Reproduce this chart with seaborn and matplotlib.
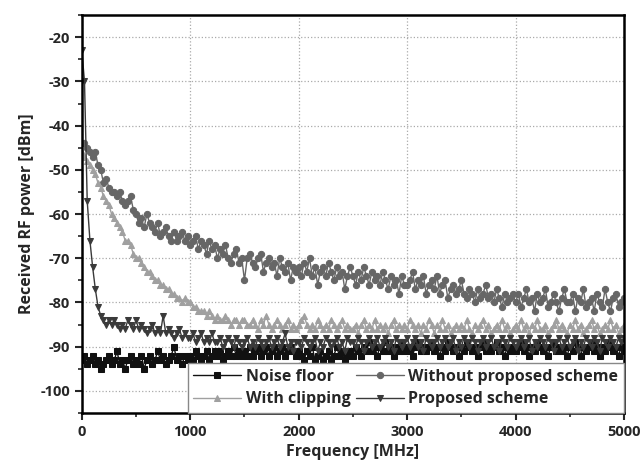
import numpy as np
import pandas as pd
import seaborn as sns
import matplotlib.pyplot as plt
from matplotlib.ticker import MultipleLocator

# frequency grid (MHz), 25 MHz steps
freq = np.arange(0, 5001, 25)

noise_floor = [
    -93, -92, -94, -93, -92, -94, -93, -95, -94, -93,
    -92, -94, -93, -91, -94, -93, -95, -93, -92, -94,
    -93, -94, -92, -95, -93, -92, -94, -93, -91, -93,
    -92, -94, -93, -92, -90, -93, -92, -94, -92, -93,
    -92, -93, -91, -92, -93, -92, -91, -93, -92, -91,
    -92, -91, -93, -92, -91, -92, -90, -92, -91, -92,
    -91, -92, -90, -92, -91, -90, -92, -91, -90, -92,
    -91, -90, -92, -91, -90, -92, -91, -90, -91, -92,
    -91, -92, -93, -91, -92, -90, -93, -92, -91, -93,
    -92, -91, -93, -92, -90, -92, -91, -93, -92, -91,
    -92, -90, -91, -92, -90, -91, -89, -91, -90, -92,
    -90, -91, -89, -91, -90, -92, -90, -91, -89, -91,
    -90, -91, -92, -90, -89, -91, -90, -91, -90, -89,
    -91, -90, -92, -90, -91, -89, -90, -91, -90, -92,
    -90, -91, -89, -90, -91, -90, -92, -90, -89, -91,
    -90, -91, -90, -89, -91, -90, -92, -90, -91, -90,
    -91, -90, -89, -91, -90, -92, -90, -91, -89, -90,
    -91, -90, -92, -90, -89, -91, -90, -91, -90, -92,
    -90, -91, -89, -90, -92, -90, -91, -90, -89, -91,
    -90, -92, -90, -91, -89, -90, -91, -90, -92, -90,
    -91]

without_scheme = [
    -44, -44, -45, -46, -47, -46, -49, -50, -53, -52,
    -54, -55, -55, -56, -55, -57, -58, -57, -56, -59,
    -60, -62, -61, -63, -60, -62, -63, -64, -62, -65,
    -64, -63, -65, -66, -64, -66, -65, -64, -66, -65,
    -67, -66, -65, -68, -66, -67, -69, -66, -68, -67,
    -70, -68, -69, -67, -70, -71, -69, -68, -71, -70,
    -75, -70, -69, -71, -72, -70, -69, -73, -71, -70,
    -72, -71, -74, -70, -72, -73, -71, -75, -72, -73,
    -72, -74, -71, -73, -70, -74, -72, -76, -73, -72,
    -74, -71, -73, -75, -72, -74, -73, -77, -74, -72,
    -74, -76, -73, -75, -72, -74, -76, -73, -75, -74,
    -76, -73, -75, -77, -74, -76, -75, -78, -74, -76,
    -76, -75, -73, -77, -75, -76, -74, -78, -76, -75,
    -77, -74, -78, -76, -75, -79, -77, -76, -78, -77,
    -75, -78, -79, -77, -78, -80, -77, -79, -78, -76,
    -79, -78, -80, -77, -79, -81, -78, -80, -79, -78,
    -80, -78, -81, -79, -77, -80, -79, -82, -78, -80,
    -79, -77, -81, -80, -78, -80, -82, -79, -77, -80,
    -80, -78, -82, -79, -80, -77, -81, -80, -79, -82,
    -78, -80, -81, -77, -80, -82, -79, -78, -81, -80,
    -79]

with_clipping = [
    -46, -47, -48, -49, -50, -51, -53, -54, -56, -57,
    -58, -60, -61, -62, -63, -64, -66, -66, -67, -69,
    -70, -70, -71, -72, -73, -73, -74, -75, -75, -76,
    -76, -77, -77, -78, -78, -79, -79, -80, -79, -80,
    -80, -81, -81, -82, -82, -82, -83, -82, -83, -84,
    -83, -84, -84, -83, -84, -85, -84, -84, -85, -84,
    -84, -85, -85, -84, -85, -86, -84, -85, -83, -85,
    -86, -85, -84, -85, -86, -85, -84, -86, -85, -86,
    -85, -84, -83, -85, -86, -85, -86, -84, -85, -86,
    -85, -86, -84, -85, -86, -85, -84, -86, -85, -86,
    -86, -85, -87, -85, -84, -86, -85, -86, -84, -86,
    -85, -86, -85, -87, -85, -84, -86, -85, -86, -85,
    -86, -84, -85, -86, -85, -87, -85, -86, -84, -85,
    -87, -85, -86, -84, -86, -85, -87, -86, -85, -86,
    -85, -86, -84, -86, -87, -85, -86, -85, -84, -86,
    -85, -87, -86, -85, -86, -84, -86, -85, -87, -86,
    -85, -86, -84, -86, -85, -87, -85, -86, -84, -86,
    -86, -85, -87, -86, -85, -84, -86, -85, -86, -87,
    -85, -86, -84, -86, -85, -87, -86, -85, -84, -86,
    -85, -87, -86, -85, -86, -84, -86, -85, -87, -86,
    -85]

proposed = [
    -23, -30, -57, -66, -72, -77, -81, -83, -84, -85,
    -84, -85, -84, -85, -86, -85, -86, -84, -85, -86,
    -84, -86, -85, -86, -87, -86, -85, -87, -86, -87,
    -83, -87, -86, -87, -88, -87, -86, -88, -87, -88,
    -88, -87, -89, -88, -87, -89, -88, -89, -87, -89,
    -89, -88, -90, -89, -88, -89, -90, -88, -89, -90,
    -89, -88, -90, -89, -90, -88, -89, -90, -89, -88,
    -90, -89, -88, -90, -89, -87, -90, -89, -91, -89,
    -89, -90, -88, -89, -90, -89, -88, -91, -89, -90,
    -88, -89, -90, -89, -88, -90, -89, -91, -88, -89,
    -89, -90, -88, -89, -91, -89, -88, -90, -89, -88,
    -90, -89, -88, -90, -89, -91, -88, -89, -90, -89,
    -88, -90, -89, -88, -90, -89, -91, -88, -89, -90,
    -89, -88, -90, -89, -88, -90, -89, -88, -91, -89,
    -90, -88, -89, -90, -88, -89, -91, -89, -88, -90,
    -89, -88, -90, -89, -91, -88, -89, -90, -88, -89,
    -90, -89, -88, -90, -89, -88, -91, -89, -90, -88,
    -89, -90, -88, -89, -91, -89, -88, -90, -89, -88,
    -90, -89, -88, -91, -89, -90, -88, -89, -90, -88,
    -89, -91, -88, -89, -90, -88, -89, -90, -88, -89,
    -88]

sns.set_theme(style="ticks")
plt.rcParams['font.family'] = ['Open Sans', 'DejaVu Sans']
plt.rcParams['font.weight'] = 'bold'
plt.rcParams['axes.unicode_minus'] = False

fig = plt.figure(figsize=(6.44, 4.72), dpi=100)
ax = fig.add_axes([0.127, 0.125, 0.842, 0.843])

series = [
    ("Noise floor", noise_floor, "#111111", "s"),
    ("Without proposed scheme", without_scheme, "#666666", "o"),
    ("With clipping", with_clipping, "#a0a0a0", "^"),
    ("Proposed scheme", proposed, "#3a3a3a", "v"),
]
for name, vals, col, mk in series:
    sns.lineplot(x=freq, y=vals, ax=ax, color=col, marker=mk, markersize=4.5,
                 markeredgecolor=col, linewidth=1.0, label=name)

ax.set_xlim(0, 5000)
ax.set_ylim(-105, -15)
ax.xaxis.set_major_locator(MultipleLocator(1000))
ax.xaxis.set_minor_locator(MultipleLocator(500))
ax.yaxis.set_major_locator(MultipleLocator(10))
ax.yaxis.set_minor_locator(MultipleLocator(5))
ax.grid(True, which='major', linestyle=':', color='#aaaaaa', linewidth=0.9)

for s in ax.spines.values():
    s.set_linewidth(1.8)
    s.set_color('black')
ax.tick_params(which='major', direction='out', length=5, width=1.5, labelsize=10.5)
ax.tick_params(which='minor', direction='out', length=3, width=1.2)
for lab in ax.get_xticklabels() + ax.get_yticklabels():
    lab.set_fontweight('bold')

ax.set_xlabel("Frequency [MHz]", fontsize=11.5, fontweight='bold')
ax.set_ylabel("Received RF power [dBm]", fontsize=11.5, fontweight='bold')

# legend filled column-wise: reorder so rows read as in the original
h, l = ax.get_legend_handles_labels()
order = [0, 2, 1, 3]
leg = ax.legend([h[i] for i in order], [l[i] for i in order],
                loc='lower right', ncol=2, frameon=True, fancybox=False,
                borderaxespad=0, edgecolor='#888888', framealpha=1,
                handlelength=3.0, columnspacing=0.3, handletextpad=0.3,
                prop={'size': 11.5, 'weight': 'bold'}, labelspacing=0.4,
                borderpad=0.35)
leg.get_frame().set_linewidth(1.0)

fig.savefig("out.png", dpi=100)
